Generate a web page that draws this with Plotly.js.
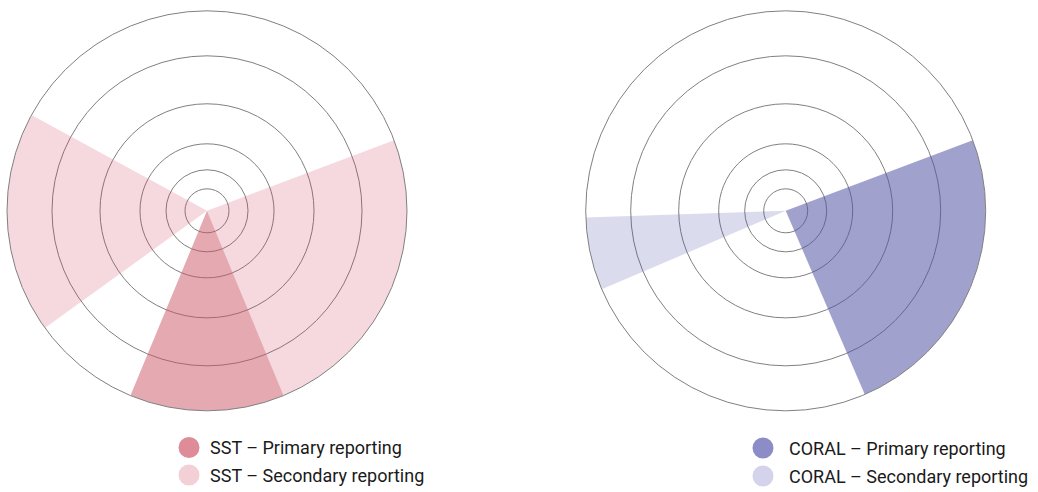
<!DOCTYPE html>
<html>
<head>
<meta charset="utf-8">
<script src="https://cdn.plot.ly/plotly-3.0.1.min.js"></script>
<style>
  html, body { margin: 0; padding: 0; background: #ffffff; }
  #chart { width: 1038px; height: 492px; }
</style>
</head>
<body>
<div id="chart"></div>
<script>
// ---- data ----
const gridRadii = [11, 20.5, 33.5, 53.5, 77.5];   // inner ring positions (outer ring = 100)
const radialMax = 100;

const sstPrimaryTheta = [270];
const sstPrimaryWidth = [45];
const sstPrimaryR = [100];

const sstSecondaryTheta = [336.6, 183.6];
const sstSecondaryWidth = [88.2, 64.5];
const sstSecondaryR = [100, 100];

const coralPrimaryTheta = [337];
const coralPrimaryWidth = [87.4];
const coralPrimaryR = [100];

const coralSecondaryTheta = [192.5];
const coralSecondaryWidth = [21.2];
const coralSecondaryR = [100];

const legendLabels = {
  sstPrimary: 'SST – Primary reporting',
  sstSecondary: 'SST – Secondary reporting',
  coralPrimary: 'CORAL – Primary reporting',
  coralSecondary: 'CORAL – Secondary reporting'
};

// ---- styles ----
const colors = {
  sstPrimary: 'rgba(203,83,99,0.5)',
  sstSecondary: 'rgba(205,65,90,0.2)',
  coralPrimary: 'rgba(84,84,164,0.55)',
  coralSecondary: 'rgba(75,75,170,0.2)'
};
const legendColors = {
  sstPrimary: '#de8c98',
  sstSecondary: '#f3d0d6',
  coralPrimary: '#8c8cc7',
  coralSecondary: '#d3d3eb'
};

function wedge(theta, width, r, color, subplot, name) {
  return {
    type: 'barpolar',
    r: r, theta: theta, width: width,
    marker: { color: color, line: { width: 0 } },
    subplot: subplot, name: name, showlegend: false,
    hoverinfo: 'name'
  };
}

const traces = [
  wedge(sstSecondaryTheta, sstSecondaryWidth, sstSecondaryR, colors.sstSecondary, 'polar', legendLabels.sstSecondary),
  wedge(sstPrimaryTheta, sstPrimaryWidth, sstPrimaryR, colors.sstPrimary, 'polar', legendLabels.sstPrimary),
  wedge(coralSecondaryTheta, coralSecondaryWidth, coralSecondaryR, colors.coralSecondary, 'polar2', legendLabels.coralSecondary),
  wedge(coralPrimaryTheta, coralPrimaryWidth, coralPrimaryR, colors.coralPrimary, 'polar2', legendLabels.coralPrimary)
];

function polarLayout(xdom) {
  return {
    domain: { x: xdom, y: [0.165, 0.978] },
    bgcolor: 'rgba(0,0,0,0)',
    radialaxis: {
      range: [0, radialMax], tickvals: gridRadii, showticklabels: false,
      ticks: '', showline: false, showgrid: true,
      gridcolor: '#808080', gridwidth: 1
    },
    angularaxis: {
      showgrid: false, showticklabels: false, ticks: '',
      showline: true, linecolor: '#808080', linewidth: 1,
      rotation: 0, direction: 'counterclockwise'
    },
    barmode: 'overlay'
  };
}

const W = 1038, H = 492;
const px = x => x / W;
const py = y => 1 - y / H;

function legendCircle(cx, cy, color) {
  return {
    type: 'circle', xref: 'paper', yref: 'paper',
    xsizemode: 'pixel', ysizemode: 'pixel',
    xanchor: px(cx), yanchor: py(cy),
    x0: -10.5, x1: 10.5, y0: -10.5, y1: 10.5,
    fillcolor: color, line: { width: 0 }
  };
}
function legendText(x, y, text) {
  return {
    xref: 'paper', yref: 'paper', x: px(x), y: py(y),
    xanchor: 'left', yanchor: 'middle', showarrow: false,
    text: text,
    font: { family: 'Roboto, "Liberation Sans Narrow", Arial, sans-serif', size: 18, color: '#1a1a1a' }
  };
}

const layout = {
  width: W, height: H,
  margin: { l: 0, r: 0, t: 0, b: 0 },
  paper_bgcolor: '#ffffff',
  showlegend: false,
  polar: polarLayout([px(7), px(407)]),
  polar2: polarLayout([px(585.7), px(985.7)]),
  shapes: [
    legendCircle(189, 447.5, legendColors.sstPrimary),
    legendCircle(189, 475, legendColors.sstSecondary),
    legendCircle(763, 448, legendColors.coralPrimary),
    legendCircle(763, 476, legendColors.coralSecondary)
  ],
  annotations: [
    legendText(208, 447.5, legendLabels.sstPrimary),
    legendText(208, 475.5, legendLabels.sstSecondary),
    legendText(787, 448, legendLabels.coralPrimary),
    legendText(787, 476.5, legendLabels.coralSecondary)
  ]
};

Plotly.newPlot('chart', traces, layout, { displayModeBar: false, staticPlot: true });
</script>
</body>
</html>
